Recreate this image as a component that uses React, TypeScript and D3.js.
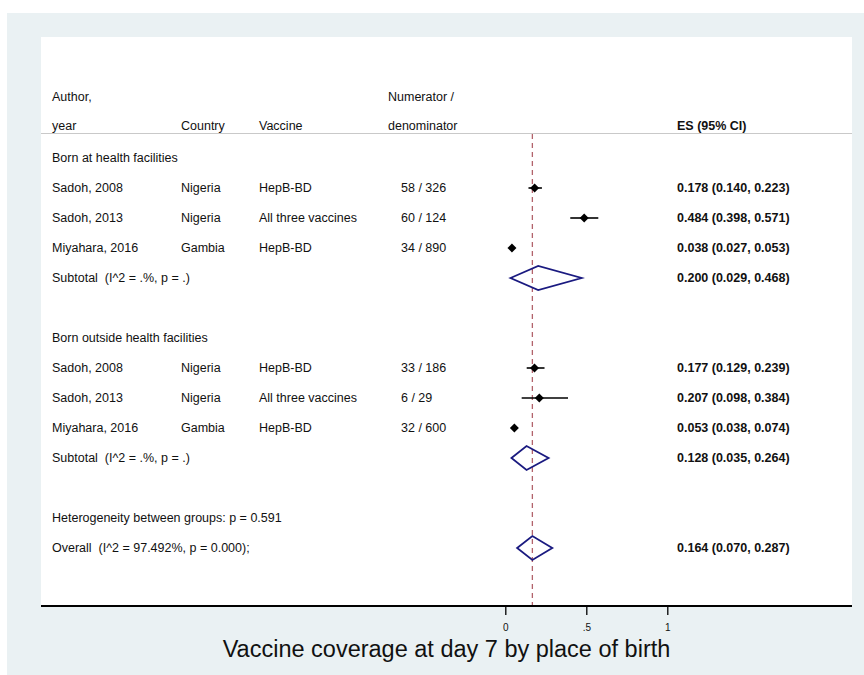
import * as d3 from "d3";

// one entry per row of the table, top to bottom
const rowLabels = [
  "Born at health facilities",
  "Sadoh, 2008",
  "Sadoh, 2013",
  "Miyahara, 2016",
  "Subtotal  (I^2 = .%, p = .)",
  "",
  "Born outside health facilities",
  "Sadoh, 2008",
  "Sadoh, 2013",
  "Miyahara, 2016",
  "Subtotal  (I^2 = .%, p = .)",
  "",
  "Heterogeneity between groups: p = 0.591",
  "Overall  (I^2 = 97.492%, p = 0.000);",
];
const rowKinds = [
  "group", "study", "study", "study", "pooled", "blank",
  "group", "study", "study", "study", "pooled", "blank",
  "note", "pooled",
];
const countries = ["", "Nigeria", "Nigeria", "Gambia", "", "", "", "Nigeria", "Nigeria", "Gambia", "", "", "", ""];
const vaccines = ["", "HepB-BD", "All three vaccines", "HepB-BD", "", "", "", "HepB-BD", "All three vaccines", "HepB-BD", "", "", "", ""];
const counts = ["", "58 / 326", "60 / 124", "34 / 890", "", "", "", "33 / 186", "6 / 29", "32 / 600", "", "", "", ""];
const es: (number | null)[] = [null, 0.178, 0.484, 0.038, 0.2, null, null, 0.177, 0.207, 0.053, 0.128, null, null, 0.164];
const lo: (number | null)[] = [null, 0.14, 0.398, 0.027, 0.029, null, null, 0.129, 0.098, 0.038, 0.035, null, null, 0.07];
const hi: (number | null)[] = [null, 0.223, 0.571, 0.053, 0.468, null, null, 0.239, 0.384, 0.074, 0.264, null, null, 0.287];

const overallEs = 0.164;
const xTicks = [0, 0.5, 1];
const xTickLabels = ["0", ".5", "1"];
const title = "Vaccine coverage at day 7 by place of birth";

const fmt = d3.format(".3f");
// svg collapses runs of spaces, keep the double gaps from the stata labels
const keepSpaces = (s: string) => s.replace(/  /g, "\u00a0 ");

export default function App() {
  const width = 864;
  const height = 675;
  const plot = { left: 41, right: 852, top: 37, bottom: 606 };
  const font = "'Liberation Sans', Arial, Helvetica, sans-serif";
  const x = d3.scaleLinear([0, 1], [505.8, 667.8]);
  const y = d3.scaleLinear([0, rowLabels.length - 1], [158, 158 + 30 * (rowLabels.length - 1)]);
  const cols = { author: 52, country: 181, vaccine: 259, count: 401, countHead: 388, es: 677 };
  const navy = "#1a1a80";

  return (
    <div style={{ position: "absolute", left: 0, top: 0 }}>
      <svg width={width} height={height} viewBox={`0 0 ${width} ${height}`} style={{ display: "block" }} fontFamily={font}>
        <rect x="0" y="0" width={width} height={height} fill="#ffffff" />
        <rect x="7" y="13" width={width - 7} height={height - 13} fill="#eaf1f3" />
        <rect x={plot.left} y={plot.top} width={plot.right - plot.left} height={plot.bottom - plot.top} fill="#ffffff" />

        {/* header */}
        <g fontSize="12.5" fill="#111">
          <text x={cols.author} y={97} dy="0.35em">Author,</text>
          <text x={cols.countHead} y={97} dy="0.35em">Numerator /</text>
          <text x={cols.author} y={126} dy="0.35em">year</text>
          <text x={cols.country} y={126} dy="0.35em">Country</text>
          <text x={cols.vaccine} y={126} dy="0.35em">Vaccine</text>
          <text x={cols.countHead} y={126} dy="0.35em">denominator</text>
          <text x={cols.es} y={126} dy="0.35em" fontWeight="bold">ES (95% CI)</text>
        </g>
        <line x1={plot.left} x2={plot.right} y1={133.5} y2={133.5} stroke="#c9c9c9" strokeWidth="1.2" />

        {/* reference line at the overall estimate */}
        <line
          x1={x(overallEs)}
          x2={x(overallEs)}
          y1={134}
          y2={plot.bottom}
          stroke="#b2636b"
          strokeWidth="1.3"
          strokeDasharray="5,4"
        />

        {rowLabels.map((label, i) => {
          const yy = y(i);
          const kind = rowKinds[i];
          const e = es[i];
          const l = lo[i];
          const h = hi[i];
          return (
            <g key={i}>
              <text x={cols.author} y={yy} dy="0.35em" fontSize="12.5" fill="#111">{keepSpaces(label)}</text>
              {countries[i] && <text x={cols.country} y={yy} dy="0.35em" fontSize="12.5" fill="#111">{countries[i]}</text>}
              {vaccines[i] && <text x={cols.vaccine} y={yy} dy="0.35em" fontSize="12.5" fill="#111">{vaccines[i]}</text>}
              {counts[i] && <text x={cols.count} y={yy} dy="0.35em" fontSize="12.5" fill="#111">{counts[i]}</text>}
              {e != null && l != null && h != null && (
                <>
                  <text x={cols.es} y={yy} dy="0.35em" fontSize="12.5" fontWeight="bold" fill="#111">
                    {`${fmt(e)} (${fmt(l)}, ${fmt(h)})`}
                  </text>
                  {kind === "study" ? (
                    <g>
                      <line x1={x(l)} x2={x(h)} y1={yy} y2={yy} stroke="#000" strokeWidth="1.6" />
                      <path
                        d={`M${x(e)},${yy - 4.5}L${x(e) + 4.5},${yy}L${x(e)},${yy + 4.5}L${x(e) - 4.5},${yy}Z`}
                        fill="#000"
                      />
                    </g>
                  ) : (
                    <path
                      d={`M${x(l)},${yy}L${x(e)},${yy - 12}L${x(h)},${yy}L${x(e)},${yy + 12}Z`}
                      fill="none"
                      stroke={navy}
                      strokeWidth="1.8"
                      strokeLinejoin="miter"
                    />
                  )}
                </>
              )}
            </g>
          );
        })}

        {/* x axis */}
        <line x1={plot.left} x2={plot.right} y1={plot.bottom} y2={plot.bottom} stroke="#000" strokeWidth="1.8" />
        {xTicks.map((t, i) => (
          <g key={t}>
            <line x1={x(t)} x2={x(t)} y1={plot.bottom} y2={plot.bottom + 9} stroke="#000" strokeWidth="1.3" />
            <text x={x(t)} y={627} dy="0.35em" textAnchor="middle" fontSize="10" fill="#111">
              {xTickLabels[i]}
            </text>
          </g>
        ))}
        <text x={(plot.left + plot.right) / 2} y={649} dy="0.35em" textAnchor="middle" fontSize="23.5" fill="#111">
          {title}
        </text>
      </svg>
    </div>
  );
}
